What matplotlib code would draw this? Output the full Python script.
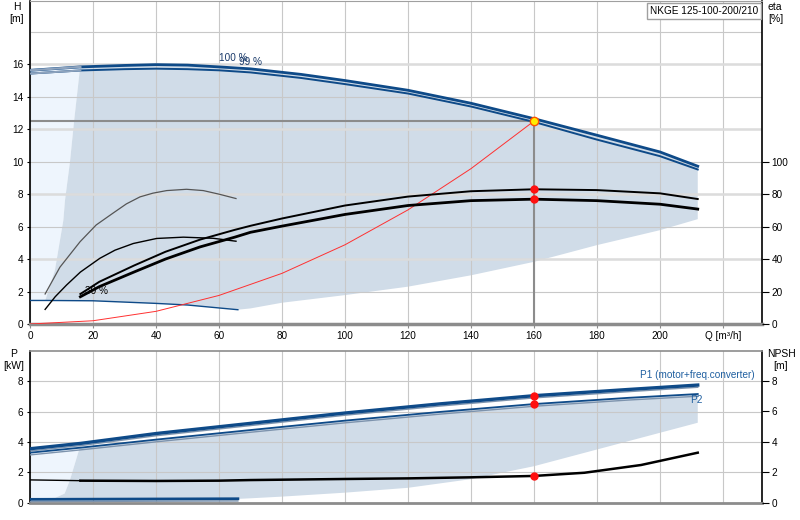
import numpy as np
import matplotlib.pyplot as plt
import matplotlib.patheffects as pe

plt.rcParams['font.family'] = ['Liberation Sans', 'DejaVu Sans']
plt.rcParams['font.size'] = 7.2

# --- pump curves ---
q_h = [0, 16, 30, 40, 50, 60, 70, 86, 100, 120, 140, 160, 180, 200, 212]
h_100 = [15.63, 15.84, 15.93, 15.98, 15.95, 15.84, 15.72, 15.38, 15.0, 14.4, 13.6, 12.65, 11.63, 10.6, 9.72]
h_99 = [15.43, 15.62, 15.70, 15.73, 15.70, 15.63, 15.50, 15.16, 14.78, 14.2, 13.4, 12.45, 11.36, 10.34, 9.52]

q_30 = [0, 5, 20, 40, 50, 66]
h_30 = [1.45, 1.45, 1.43, 1.27, 1.17, 0.88]

# limits of the operating area (H)
q_left = [4.8, 7.9, 10.6, 11.1, 12.7, 14.0, 15.9]
h_left = [1.43, 3.3, 6.4, 7.6, 10.0, 12.5, 15.8]
q_low = [66, 70, 80, 100, 120, 140, 160, 180, 200, 212]
h_low = [0.88, 0.96, 1.31, 1.78, 2.3, 3.0, 3.83, 4.86, 5.78, 6.46]

# efficiency [%]
q_eta = [16, 22, 33, 43, 54, 65, 70, 80, 100, 120, 140, 160, 180, 200, 212]
eta_pump = [18.5, 26, 36, 44.5, 52, 58, 60.5, 65, 73, 78.5, 81.8, 83, 82.5, 80.5, 77]
eta_total = [16.8, 23, 32, 40, 47.5, 53.5, 56.5, 60.3, 67.5, 73, 76, 76.9, 76, 73.8, 70.8]

q_eta_a = [4.8, 9.5, 15.9, 21, 26.5, 30.6, 34.9, 39, 43.4, 49.7, 55, 60, 65.4]
eta_pump_30 = [18.5, 35, 50.7, 61, 68.5, 74, 78.3, 80.6, 82.2, 83, 82.2, 80, 77.3]
q_eta_b = [4.8, 8, 11.6, 16, 22.2, 27, 32.8, 40.2, 48.7, 58.2, 65.4]
eta_total_30 = [9, 16.8, 24, 32, 40.5, 45.5, 49.6, 52.7, 53.5, 52.8, 51]

# system curve
q_sys = [0, 20, 40, 60, 80, 100, 120, 140, 160]
h_sys = [0, 0.2, 0.78, 1.76, 3.12, 4.88, 7.03, 9.57, 12.5]

duty_q = 160
duty_h = 12.5
duty_eta = [83, 77]

# power [kW] and NPSH [m]
q_p = [0, 16, 40, 70, 100, 130, 160, 190, 212]
p1 = [3.55, 3.9, 4.55, 5.22, 5.9, 6.5, 7.04, 7.45, 7.74]
p2 = [3.29, 3.62, 4.15, 4.78, 5.4, 5.97, 6.49, 6.9, 7.15]
q_p30 = [0, 66]
p_30 = [0.22, 0.26]

q_pleft = [3, 8, 11, 12.7, 14.3, 15.9]
p_left = [0.25, 0.32, 0.6, 1.5, 2.6, 3.7]
q_plow = [66, 70, 80, 100, 120, 140, 160, 180, 200, 212]
p_low = [0.25, 0.29, 0.4, 0.66, 0.98, 1.55, 2.4, 3.5, 4.6, 5.26]

q_npsh = [0, 16, 40, 60, 70, 100, 120, 140, 160, 176, 194, 212]
npsh = [1.5, 1.45, 1.43, 1.45, 1.49, 1.56, 1.6, 1.67, 1.76, 1.97, 2.48, 3.29]
duty_p = [7.04, 6.49]
duty_npsh = 1.76

x_ticks = list(range(0, 221, 20))
x_labels = [str(v) for v in x_ticks[:-1]] + ['Q [m³/h]']

dark = '#0e4a88'
shade = '#d0dce8'
light = '#eef5fd'
grid_c = '#c8c8c8'

fig = plt.figure(figsize=(8, 5.2), dpi=100)

# ---------------- top: H / eta ----------------
ax = fig.add_axes([30 / 800, 1 - 324 / 520, 732 / 800, 323 / 520])
ax.set_xlim(0, 232.4)
ax.set_ylim(0, 19.9)
ax.set_axisbelow(True)

qh = np.array(q_h)
h100 = np.array(h_100)
m = qh >= 16
ax.fill(np.concatenate([[0], q_30[:2], q_left, qh[~m][::-1]]),
        np.concatenate([[h_30[0]], h_30[:2], h_left, h100[~m][::-1]]),
        color=light, lw=0, zorder=0.3)
ax.fill(np.concatenate([q_left, qh[m], q_low[::-1], q_30[1:][::-1]]),
        np.concatenate([h_left, h100[m], h_low[::-1], h_30[1:][::-1]]),
        color=shade, lw=0, zorder=0.3)

ax.set_xticks(x_ticks)
ax.set_xticklabels(x_labels)
ax.set_yticks(range(0, 17, 2))
ax.grid(True, color=grid_c, lw=0.8)
ax.axhline(18, color=grid_c, lw=0.8, zorder=0.5)
for yv in range(4, 17, 4):
    ax.axhline(yv, color='#dcdcdc', lw=1.8, zorder=0.6)

ax.plot(q_h, h_99, color=dark, lw=1.4, zorder=3)
ax.plot(q_h, h_100, color=dark, lw=2.0, zorder=3)
ax.plot(qh[qh <= 16], np.array(h_99)[qh <= 16], color='#8ea3bd', lw=1.4, zorder=3.1)
ax.plot(qh[qh <= 16], h100[qh <= 16], color='#8ea3bd', lw=1.6, zorder=3.1)
ax.plot(q_30, h_30, color=dark, lw=1.0, zorder=3)
ax.plot(q_sys, h_sys, color='#ff3030', lw=0.7, zorder=3)

ax.plot([0, duty_q], [duty_h, duty_h], color='#8c8c8c', lw=1.5, zorder=2.5)
ax.plot([duty_q, duty_q], [0, duty_h], color='#8c8c8c', lw=1.5, zorder=2.5)
ax.plot(duty_q, duty_h, 'o', ms=6, mfc='#ffee00', mec='#ff5000', mew=1, zorder=5)

ax.text(60, 16.4, '100 %', color='#1a3a6a', va='center', zorder=4)
ax.text(66.5, 16.15, '99 %', color='#1a3a6a', va='center', zorder=4)
ax.text(17.5, 2.05, '30 %', color='black', va='center', zorder=4)

ax.text(1 - 4 / 732, 1 - 5 / 323, 'NKGE 125-100-200/210', transform=ax.transAxes,
        ha='right', va='top', zorder=6,
        bbox=dict(boxstyle='square,pad=0.3', fc='white', ec='#a0a0a0', lw=1))

for s in ['left', 'right']:
    ax.spines[s].set_color('black')
    ax.spines[s].set_linewidth(1.2)
ax.spines['bottom'].set_color('#8c8c8c')
ax.spines['bottom'].set_linewidth(2.5)
ax.spines['top'].set_color('#a0a0a0')
ax.tick_params(axis='x', length=3, color='#8c8c8c', pad=2)
ax.tick_params(axis='y', length=2, pad=3)

ax2 = ax.twinx()
ax2.set_ylim(0, 199)
ax2.set_yticks(range(0, 101, 20))
ax2.tick_params(axis='y', length=5, pad=2)
ax2.plot(q_eta_a, eta_pump_30, color='#555555', lw=0.9)
ax2.plot(q_eta_b, eta_total_30, color='black', lw=1.0)
ax2.plot(q_eta, eta_pump, color='black', lw=1.4)
ax2.plot(q_eta, eta_total, color='black', lw=2.0)
ax2.plot([duty_q] * 2, duty_eta, 'o', ms=5, color='#ff1010', zorder=5)
for s in ax2.spines.values():
    s.set_visible(False)

fig.text(17 / 800, 1 - 7 / 520, 'H', ha='center', va='center', fontsize=7.5)
fig.text(17 / 800, 1 - 19 / 520, '[m]', ha='center', va='center', fontsize=7.5)
fig.text(768 / 800, 1 - 7 / 520, 'eta', ha='left', va='center', fontsize=7.5)
fig.text(768 / 800, 1 - 19 / 520, '[%]', ha='left', va='center', fontsize=7.5)

# ---------------- bottom: P / NPSH ----------------
bx = fig.add_axes([30 / 800, 1 - 502.7 / 520, 732 / 800, 152 / 520])
bx.set_xlim(0, 232.4)
bx.set_ylim(0, 10)
bx.set_axisbelow(True)

qp = np.array(q_p)
p2a = np.array(p2)
mp = qp >= 16
bx.fill(np.concatenate([[0], q_pleft, qp[~mp][::-1]]),
        np.concatenate([[p_left[0]], p_left, p2a[~mp][::-1]]),
        color=light, lw=0, zorder=0.3)
bx.fill(np.concatenate([q_pleft, qp[mp], q_plow[::-1], [q_pleft[0]]]),
        np.concatenate([p_left, p2a[mp], p_low[::-1], [p_left[0]]]),
        color=shade, lw=0, zorder=0.3)

bx.set_xticks(x_ticks)
bx.set_xticklabels([])
bx.set_yticks(range(0, 9, 2))
bx.grid(True, color=grid_c, lw=0.8)

dbl = [pe.SimpleLineShadow(offset=(0, -1.6), shadow_color='#7d93ad', alpha=1, rho=1, linewidth=1.0),
       pe.Normal()]
bx.plot(q_p, p1, color=dark, lw=2.4, path_effects=dbl, zorder=3)
bx.plot(q_p, p2, color=dark, lw=1.3, path_effects=dbl, zorder=3)
bx.plot(q_p30, p_30, color=dark, lw=2.0, path_effects=dbl, zorder=3)
bx.plot([duty_q] * 2, duty_p, 'o', ms=5, color='#ff1010', zorder=5)

bx.text(230, 8.4, 'P1 (motor+freq.converter)', color='#1f5fa0', ha='right', va='center')
bx.text(209.5, 6.75, 'P2', color='#1f5fa0', ha='left', va='center')

for s in ['left', 'right']:
    bx.spines[s].set_color('black')
    bx.spines[s].set_linewidth(1.2)
bx.spines['bottom'].set_color('#8c8c8c')
bx.spines['bottom'].set_linewidth(2.0)
bx.spines['top'].set_color('#8c8c8c')
bx.spines['top'].set_linewidth(1.2)
bx.tick_params(axis='x', length=0)
bx.tick_params(axis='y', length=2, pad=3)

bx2 = bx.twinx()
bx2.set_ylim(0, 10)
bx2.set_yticks(range(0, 9, 2))
bx2.tick_params(axis='y', length=5, pad=2)
qn = np.array(q_npsh)
bx2.plot(qn[qn <= 16], np.array(npsh)[qn <= 16], color='black', lw=1.0)
bx2.plot(qn[qn >= 16], np.array(npsh)[qn >= 16], color='black', lw=1.8)
bx2.plot(duty_q, duty_npsh, 'o', ms=5, color='#ff1010', zorder=5)
for s in bx2.spines.values():
    s.set_visible(False)

fig.text(14 / 800, 1 - 354 / 520, 'P', ha='center', va='center', fontsize=7.5)
fig.text(14 / 800, 1 - 366 / 520, '[kW]', ha='center', va='center', fontsize=7.5)
fig.text(781 / 800, 1 - 354 / 520, 'NPSH', ha='center', va='center', fontsize=7.5)
fig.text(781 / 800, 1 - 366 / 520, '[m]', ha='center', va='center', fontsize=7.5)

fig.savefig('out.png', dpi=100)
